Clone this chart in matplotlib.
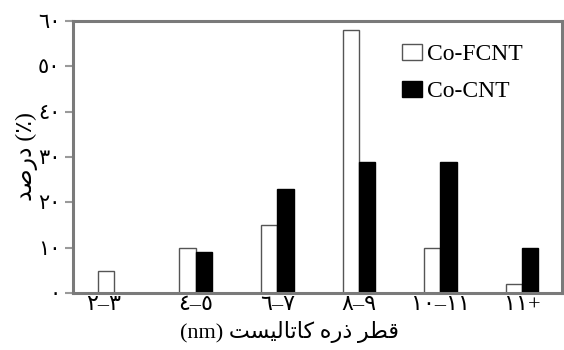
import matplotlib
matplotlib.use("Agg")
import matplotlib.pyplot as plt
import matplotlib.transforms as mtrans
import numpy as np

# --- dati ---
categories = ["٢–٣", "٤–٥", "٦–٧", "٨–٩", "١٠–١١", "١١+"]
co_fcnt = [5, 10, 15, 58, 10, 2]
co_cnt = [0, 9, 23, 29, 29, 10]
y_ticks = [0, 10, 20, 30, 40, 50, 60]
y_tick_labels = ["٠", "١٠", "٢٠", "٣٠", "٤٠", "٥٠", "٦٠"]
series_names = ["Co-FCNT", "Co-CNT"]
x_title = "قطر ذره کاتالیست"
y_title = "درصد"

# --- forme di presentazione arabe: (isolata, finale, iniziale, mediale) ---
FORMS = {
    "ا": ("\uFE8D", "\uFE8E", None, None),
    "ت": ("\uFE95", "\uFE96", "\uFE97", "\uFE98"),
    "د": ("\uFEA9", "\uFEAA", None, None),
    "ذ": ("\uFEAB", "\uFEAC", None, None),
    "ر": ("\uFEAD", "\uFEAE", None, None),
    "س": ("\uFEB1", "\uFEB2", "\uFEB3", "\uFEB4"),
    "ص": ("\uFEB9", "\uFEBA", "\uFEBB", "\uFEBC"),
    "ط": ("\uFEC1", "\uFEC2", "\uFEC3", "\uFEC4"),
    "ق": ("\uFED5", "\uFED6", "\uFED7", "\uFED8"),
    "ل": ("\uFEDD", "\uFEDE", "\uFEDF", "\uFEE0"),
    "ه": ("\uFEE9", "\uFEEA", "\uFEEB", "\uFEEC"),
    "ک": ("\uFB8E", "\uFB8F", "\uFB90", "\uFB91"),
    "ی": ("\uFBFC", "\uFBFD", "\uFBFE", "\uFBFF"),
}


def shape(text):
    """Forme contestuali + ordine visivo (matplotlib non fa shaping)."""
    out = []
    for i, ch in enumerate(text):
        if ch not in FORMS:
            out.append(ch)
            continue
        prev = text[i - 1] if i > 0 else ""
        nxt = text[i + 1] if i + 1 < len(text) else ""
        join_prev = prev in FORMS and FORMS[prev][2] is not None
        join_next = nxt in FORMS and FORMS[ch][2] is not None
        iso, fin, ini, med = FORMS[ch]
        if join_prev and join_next:
            out.append(med)
        elif join_prev:
            out.append(fin)
        elif join_next:
            out.append(ini)
        else:
            out.append(iso)
    return "".join(reversed(out))


plt.rcParams["font.family"] = ["Liberation Serif", "DejaVu Sans"]

fig = plt.figure(figsize=(5.64, 3.5), dpi=100)
ax = fig.add_axes([0.129, 0.162, 0.867, 0.779])

x = np.arange(len(categories))
w = 0.2
ax.bar(x - w / 2, co_fcnt, w, color="white", edgecolor="#555555", linewidth=1.0,
       label=series_names[0])
ax.bar(x + w / 2, co_cnt, w, color="black", edgecolor="black", linewidth=1.0,
       label=series_names[1])

ax.set_xlim(-0.506, 5.487)
ax.set_ylim(0, 60)

for s in ax.spines.values():
    s.set_color("#7a7a7a")
    s.set_linewidth(2.2)

ax.set_yticks(y_ticks)
ax.set_yticklabels(y_tick_labels, fontsize=15)
ax.tick_params(axis="y", length=6, width=1.5, color="#9a9a9a", pad=3)
ax.set_xticks(x)
ax.set_xticklabels(categories, fontsize=16)
ax.tick_params(axis="x", length=0, pad=2)

# la prima etichetta nell'originale e' spostata a sinistra
lab0 = ax.get_xticklabels()[0]
lab0.set_transform(lab0.get_transform()
                   + mtrans.ScaledTranslation(-0.1, 0, fig.dpi_scale_trans))

ax.set_xlabel("(nm) " + shape(x_title), fontsize=16)
ax.xaxis.set_label_coords(0.444, -0.1)
ax.set_ylabel(shape(y_title) + " (٪)", fontsize=17, labelpad=0)

ax.legend(loc="upper right", bbox_to_anchor=(0.94, 0.95), frameon=False,
          fontsize=17, handlelength=0.85, handleheight=0.7, handletextpad=0.2,
          labelspacing=0.65, borderaxespad=0)

fig.savefig("out.png", dpi=100)
